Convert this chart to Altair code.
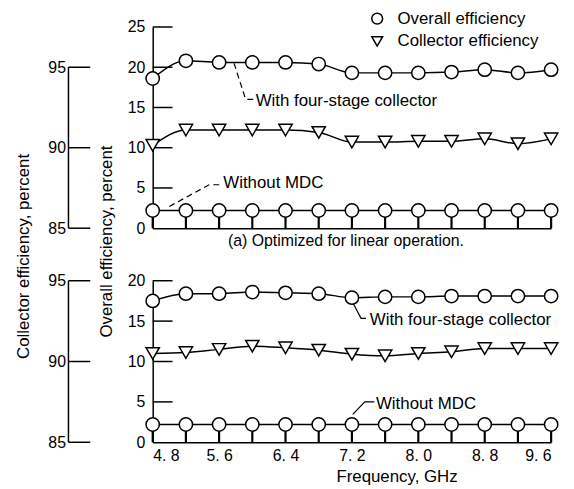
import altair as alt
import pandas as pd

FONT = "Liberation Sans"

# ---------------- data ----------------
freq = [4.8, 5.2, 5.6, 6.0, 6.4, 6.8, 7.2, 7.6, 8.0, 8.4, 8.8, 9.2, 9.6]

# (a) optimized for linear operation
a_overall_mdc = [18.6, 20.8, 20.6, 20.6, 20.6, 20.4, 19.3, 19.3, 19.3, 19.4, 19.7, 19.3, 19.7]
a_collector = [90.15, 91.1, 91.1, 91.1, 91.1, 90.95, 90.35, 90.35, 90.4, 90.4, 90.55, 90.25, 90.55]
a_overall_nomdc = [2.2, 2.2, 2.2, 2.2, 2.2, 2.2, 2.2, 2.2, 2.2, 2.2, 2.2, 2.2, 2.2]

# (b) second operating condition
b_overall_mdc = [17.5, 18.4, 18.4, 18.6, 18.5, 18.4, 17.9, 18.0, 18.0, 18.1, 18.1, 18.1, 18.1]
b_collector = [90.5, 90.55, 90.75, 90.95, 90.85, 90.7, 90.45, 90.35, 90.5, 90.6, 90.8, 90.8, 90.8]
b_overall_nomdc = [2.2, 2.2, 2.2, 2.2, 2.2, 2.2, 2.2, 2.2, 2.2, 2.2, 2.2, 2.2, 2.2]

stem_base = [0, 0, 0, 0, 0, 0, 0, 0, 0, 0, 0, 0, 0]

a_overall_ticks = [0, 5, 10, 15, 20, 25]
b_overall_ticks = [0, 5, 10, 15, 20]
collector_ticks = [85, 90, 95]
freq_labels = [4.8, 5.6, 6.4, 7.2, 8.0, 8.8, 9.6]

series_names = ["Overall efficiency", "Collector efficiency"]
ann_mdc = "With four-stage collector"
ann_nomdc = "Without MDC"

# annotation anchors (frequency, overall efficiency)
a_lead_mdc_f = [5.78, 5.92, 6.02]
a_lead_mdc_v = [20.5, 16.0, 16.0]
a_lead_no_f = [5.0, 5.48, 5.62]
a_lead_no_v = [2.7, 5.4, 5.4]
a_txt_f = [6.04, 5.65]
a_txt_v = [15.8, 5.55]

b_lead_mdc_f = [7.21, 7.31, 7.37]
b_lead_mdc_v = [17.3, 15.35, 15.35]
b_lead_no_f = [7.21, 7.355, 7.47]
b_lead_no_v = [3.45, 5.0, 5.0]
b_txt_f = [7.415, 7.49]
b_txt_v = [15.1, 4.7]

subtitle_a = ["(a) Optimized for linear operation."]


def panel(ov_mdc, coll, ov_no, ymax, cmax, ov_ticks, lead_mdc, lead_no, txt,
          dashed, top):
    h = 203 if top else 163
    xs = alt.Scale(domain=[4.8, 9.6], nice=False, zero=False)
    if top:
        xaxis = alt.Axis(labels=False, ticks=False, tickSize=0, domain=True,
                         domainColor="black", domainWidth=1.5, grid=False, title=None)
    else:
        xaxis = alt.Axis(values=freq_labels, labelExpr="replace(format(datum.value, '.1f'), '.', '. ')",
                         ticks=False, tickSize=0, labelPadding=5, labelFont=FONT,
                         labelFontSize=16, labelColor="black", domain=True,
                         domainColor="black", domainWidth=1.5, grid=False,
                         title="Frequency, GHz", titleFont=FONT, titleFontSize=17,
                         titleFontWeight="normal", titleColor="black",
                         titleX=246, titleY=35, titleAlign="center", titleBaseline="middle")
    X = alt.X("f:Q", scale=xs, axis=xaxis)

    yo_axis = alt.Axis(values=ov_ticks, ticks=False, tickSize=0, labelPadding=8,
                       labelFont=FONT, labelFontSize=16, labelColor="black",
                       domain=True, domainColor="black", domainWidth=1.5, grid=False,
                       title=("Overall efficiency, percent" if top else None),
                       titleFont=FONT, titleFontSize=17, titleFontWeight="normal",
                       titleColor="black", titleX=-47, titleY=216, titleAngle=270,
                       titleAlign="center", titleBaseline="middle")
    ys = alt.Scale(domain=[0, ymax], nice=False, zero=False)
    Yo = alt.Y("v:Q", scale=ys, axis=yo_axis)

    yc_axis = alt.Axis(values=collector_ticks, orient="left", offset=85, ticks=False,
                       tickSize=0, labelPadding=3, labelFont=FONT, labelFontSize=16,
                       labelColor="black", domain=False, grid=False,
                       title=("Collector efficiency, percent" if top else None),
                       titleFont=FONT, titleFontSize=17, titleFontWeight="normal",
                       titleColor="black", titleX=-45, titleY=231, titleAngle=270,
                       titleAlign="center", titleBaseline="middle")
    yc_scale = alt.Scale(domain=[85, cmax], nice=False, zero=False)
    Yc = alt.Y("v:Q", scale=yc_scale, axis=yc_axis)

    shape_scale = alt.Scale(domain=series_names, range=["circle", "triangle-down"])
    if top:
        legend = alt.Legend(title=None, orient="none", legendX=218, legendY=-17,
                            labelFont=FONT, labelFontSize=17, labelColor="black",
                            symbolSize=120, symbolStrokeWidth=1.5,
                            rowPadding=5, labelOffset=12, padding=0)
        S = alt.Shape("s:N", scale=shape_scale, legend=legend)
    else:
        S = alt.Shape("s:N", scale=shape_scale, legend=None)

    df_ov = pd.DataFrame({
        "f": freq + freq,
        "v": ov_mdc + ov_no,
        "g": ["mdc"] * len(freq) + ["no"] * len(freq),
        "s": [series_names[0]] * (2 * len(freq)),
    })
    df_stem = pd.DataFrame({
        "f": freq + freq,
        "v": ov_no + stem_base,
        "k": [0] * len(freq) + [1] * len(freq),
    })
    df_oticks = pd.DataFrame({"v": ov_ticks[1:]})
    df_lead = pd.DataFrame({
        "f": lead_mdc[0] + lead_no[0],
        "v": lead_mdc[1] + lead_no[1],
        "g": ["a"] * len(lead_mdc[0]) + ["b"] * len(lead_no[0]),
        "o": list(range(len(lead_mdc[0]))) + list(range(len(lead_no[0]))),
    })
    df_txt = pd.DataFrame({"f": txt[0], "v": txt[1], "t": [ann_mdc, ann_nomdc]})

    over_line = alt.Chart(df_ov).mark_line(color="black", strokeWidth=1.5,
                                           interpolate="monotone").encode(
        x=X, y=Yo, detail="g:N")
    stems = alt.Chart(df_stem).mark_line(color="black", strokeWidth=2.2).encode(
        x=X, y=Yo, detail="f:N", order="k:Q")
    oticks = alt.Chart(df_oticks).mark_rule(color="black", strokeWidth=1.5).encode(
        y=Yo, x=alt.value(0), x2=alt.value(20))
    lead_kw = dict(color="black", strokeWidth=1.2)
    if dashed:
        lead_kw["strokeDash"] = [6, 4]
    leaders = alt.Chart(df_lead).mark_line(**lead_kw).encode(
        x=X, y=Yo, detail="g:N", order="o:Q")
    texts = alt.Chart(df_txt).mark_text(align="left", baseline="middle", font=FONT,
                                        fontSize=17, color="black").encode(
        x=X, y=Yo, text="t:N")
    pt_kw = dict(filled=False, fill="white", fillOpacity=1, stroke="black",
                 strokeWidth=1.5, size=180, opacity=1)
    over_pts = alt.Chart(df_ov).mark_point(**pt_kw).encode(x=X, y=Yo, shape=S)

    layers = [oticks, stems, over_line, leaders, texts, over_pts]
    if top:
        sub = alt.Chart(pd.DataFrame({"t": subtitle_a})).mark_text(
            align="center", baseline="middle", font=FONT, fontSize=16, color="black").encode(
            text="t:N", x=alt.value(195), y=alt.value(h + 13))
        layers.append(sub)
    over_layer = alt.layer(*layers)

    df_c = pd.DataFrame({"f": freq, "v": coll, "s": [series_names[1]] * len(freq)})
    df_cticks = pd.DataFrame({"v": collector_ticks})
    df_caxis = pd.DataFrame({"v": [collector_ticks[0]], "v2": [collector_ticks[-1]]})
    c_line = alt.Chart(df_c).mark_line(color="black", strokeWidth=1.5, interpolate="monotone").encode(
        x=X, y=Yc)
    c_pts = alt.Chart(df_c).mark_point(**pt_kw).encode(x=X, y=Yc, shape=S)
    c_ticks = alt.Chart(df_cticks).mark_rule(color="black", strokeWidth=1.5).encode(
        y=Yc, x=alt.value(-85), x2=alt.value(-63))
    c_axisline = alt.Chart(df_caxis).mark_rule(color="black", strokeWidth=1.5).encode(
        y=Yc, y2="v2:Q", x=alt.value(-85))
    coll_layer = alt.layer(c_ticks, c_axisline, c_line, c_pts)

    ch = alt.layer(over_layer, coll_layer).resolve_scale(y="independent").properties(
        width=402, height=h)
    return ch


top = panel(a_overall_mdc, a_collector, a_overall_nomdc, 25, 97.5, a_overall_ticks,
            (a_lead_mdc_f, a_lead_mdc_v), (a_lead_no_f, a_lead_no_v), (a_txt_f, a_txt_v),
            True, True)
bottom = panel(b_overall_mdc, b_collector, b_overall_nomdc, 20, 95, b_overall_ticks,
               (b_lead_mdc_f, b_lead_mdc_v), (b_lead_no_f, b_lead_no_v), (b_txt_f, b_txt_v),
               False, False)

chart = alt.vconcat(top, bottom, spacing=53, bounds="flush").resolve_scale(
    shape="independent").resolve_legend(shape="independent").properties(
    padding={"left": 7, "top": 0, "right": 5, "bottom": 5},
    background="white",
).configure_view(stroke=None)

chart.save("out.html", embed_options={"renderer": "svg", "actions": False})
